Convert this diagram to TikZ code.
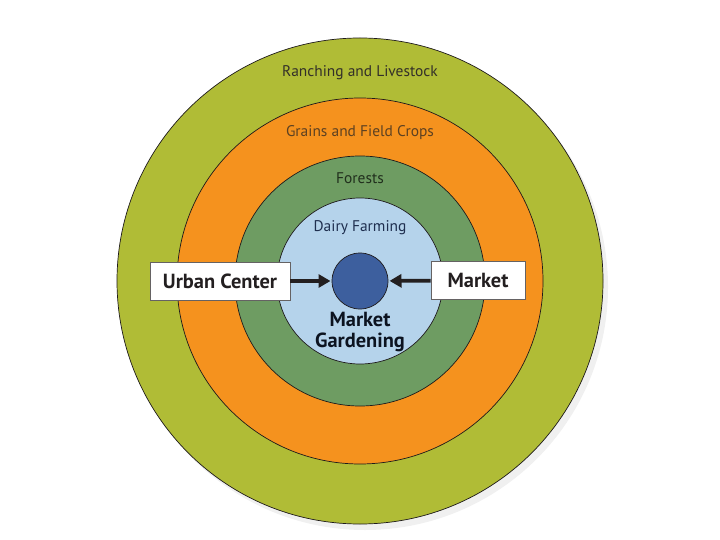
\documentclass[tikz,border=0pt]{standalone}
\usepackage{fontspec}
\setmainfont{PT Sans}
\usepackage{xcolor}
\usetikzlibrary{positioning, calc, arrows.meta}
\definecolor{ranchgreen}{HTML}{B0BC36}
\definecolor{grainorange}{HTML}{F5921E}
\definecolor{forestgreen}{HTML}{6E9C62}
\definecolor{dairyblue}{HTML}{B5D3EB}
\definecolor{coreblue}{HTML}{3D5F9E}
\definecolor{inkdark}{HTML}{231F20}

\begin{document}
\begin{tikzpicture}[x=1bp, y=-1bp, >=Triangle,
  ring/.style={circle, draw=inkdark!85!black, line width=0.7bp, inner sep=0pt, outer sep=0pt},
  zonelabel/.style={font=\fontsize{15.5}{17}\selectfont, inner sep=0pt},
  placebox/.style={draw=inkdark!70, line width=0.7bp, fill=white, minimum height=38bp, inner sep=0pt, font=\fontsize{20.5}{22}\selectfont\bfseries, text=inkdark},
  flow/.style={-{Triangle[length=12bp, width=13bp]}, line width=3.8bp, inkdark, shorten >=1.5bp}]
\useasboundingbox (0,0) rectangle (720,540);

% Shadow
\fill[black!12] (363,285) circle (243bp);
\fill[black!6] (365,287) circle (243bp);

% Rings
\node[ring, fill=ranchgreen, minimum size=486bp] (ranching) at (360,281) {};
\node[ring, fill=grainorange, minimum size=366bp] (grains) at (360,281) {};
\node[ring, fill=forestgreen, minimum size=250bp] (forests) at (360,281) {};
\node[ring, fill=dairyblue, minimum size=166bp] (dairy) at (360,281) {};
\node[ring, fill=coreblue, minimum size=56bp] (core) at (360,281) {};

% Zone labels
\node[zonelabel, text=black!85!olive] at (360,73) {Ranching and Livestock};
\node[zonelabel, text=grainorange!30!black!90] at (360,133) {Grains and Field Crops};
\node[zonelabel, text=forestgreen!30!black] at (360,178) {Forests};
\node[zonelabel, text=coreblue!50!black] at (360,228) {Dairy Farming};
\node[font=\fontsize{20.5}{21}\selectfont\bfseries, text=coreblue!20!black, align=center, inner sep=0pt] (gardening) at (360,332) {Market\\Gardening};

% Places
\node[placebox, minimum width=140bp] (urban) at (220,281) {Urban Center};
\node[placebox, minimum width=94bp] (market) at (478,280.5) {Market};

% Connections
\draw[flow] (urban) -- (core);
\draw[flow] (market) -- (core);
\end{tikzpicture}
\end{document}
